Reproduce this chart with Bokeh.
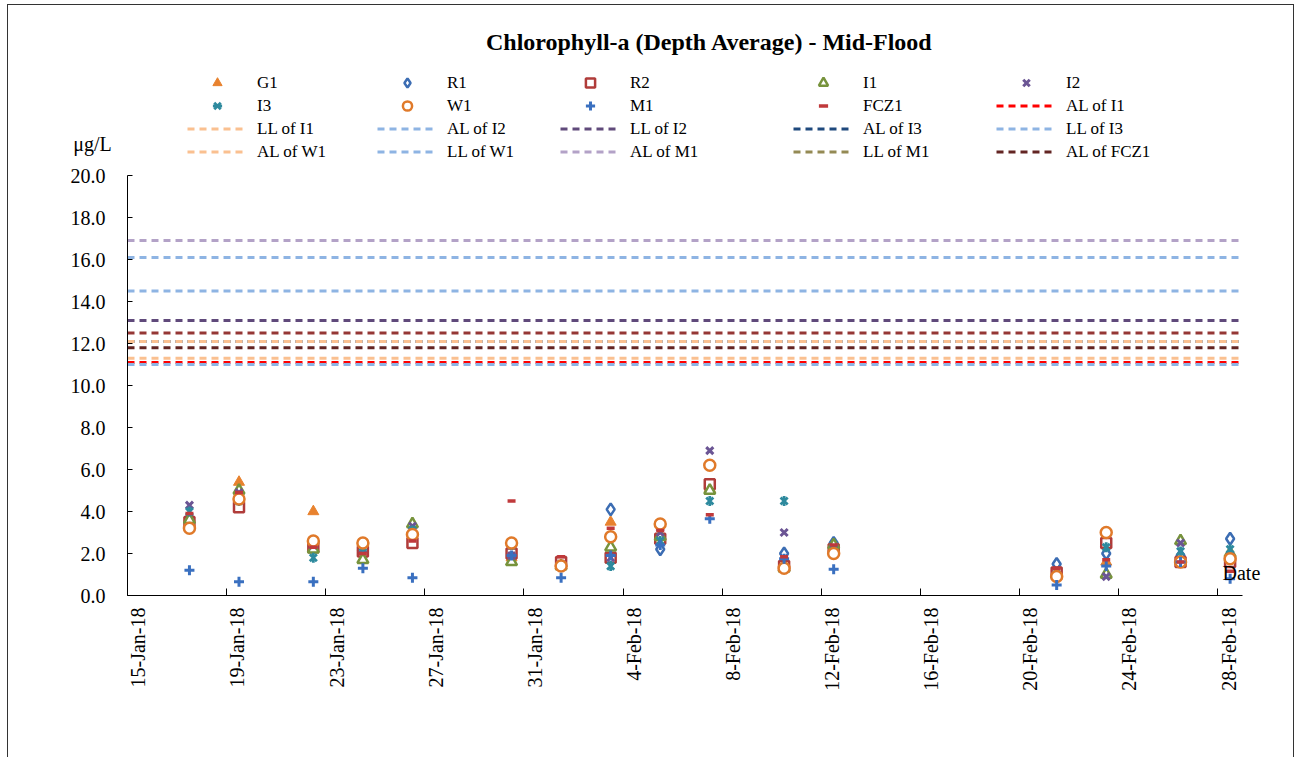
import math
import pandas as pd
from bokeh.plotting import figure
from bokeh.layouts import column
from bokeh.models import (Range1d, FixedTicker, Legend, LegendItem, Label, NumeralTickFormatter,
                          DatetimeAxis)
from bokeh.embed import file_html
from bokeh.resources import INLINE

TITLE = "Chlorophyll-a (Depth Average) - Mid-Flood"
Y_UNIT = "μg/L"
X_LABEL = "Date"

X_START = "2018-01-15"
X_END = "2018-03-01"
X_TICK_LABELS = ["15-Jan-18", "19-Jan-18", "23-Jan-18", "27-Jan-18", "31-Jan-18", "4-Feb-18",
                 "8-Feb-18", "12-Feb-18", "16-Feb-18", "20-Feb-18", "24-Feb-18", "28-Feb-18"]
Y_TICKS = [0, 2, 4, 6, 8, 10, 12, 14, 16, 18, 20]

DATES = ["2018-01-17 12:00", "2018-01-19 12:00", "2018-01-22 12:00", "2018-01-24 12:00",
         "2018-01-26 12:00", "2018-01-30 12:00", "2018-02-01 12:00", "2018-02-03 12:00",
         "2018-02-05 12:00", "2018-02-07 12:00", "2018-02-10 12:00", "2018-02-12 12:00",
         "2018-02-21 12:00", "2018-02-23 12:00", "2018-02-26 12:00", "2018-02-28 12:00"]

G1 = [3.7, 5.4, 4.0, 2.3, 3.0, 1.8, 1.5, 3.5, 2.7, 5.1, 1.3, 2.3, 0.9, 1.6, 1.7, 1.9]
R1 = [3.7, 4.8, 2.5, 2.4, 2.9, 2.0, 1.5, 4.1, 2.2, 5.2, 2.0, 2.5, 1.5, 2.0, 1.9, 2.7]
R2 = [3.5, 4.2, 2.3, 2.1, 2.5, 2.0, 1.6, 1.8, 2.7, 5.3, 1.4, 2.2, 1.1, 2.5, 1.6, 1.6]
I1 = [3.6, 5.0, 2.2, 1.7, 3.4, 1.6, 1.4, 2.3, 2.8, 5.0, 1.3, 2.4, 1.0, 1.0, 2.6, 2.0]
I2 = [4.3, 4.9, 2.4, 2.2, 3.3, 1.9, 1.5, 1.8, 3.0, 6.9, 3.0, 2.3, 1.0, 0.9, 2.5, 1.9]
I3 = [4.0, 4.5, 1.8, 2.3, 3.1, 2.4, 1.45, 1.4, 2.6, 4.5, 4.5, 2.2, 1.0, 2.3, 2.1, 2.2]
W1 = [3.2, 4.6, 2.6, 2.5, 2.9, 2.5, 1.4, 2.8, 3.4, 6.2, 1.3, 2.0, 0.9, 3.0, 1.6, 1.75]
M1 = [1.2, 0.65, 0.65, 1.3, 0.85, 1.9, 0.85, 1.9, 2.4, 3.65, 1.75, 1.25, 0.5, 1.4, 1.6, 0.8]
FCZ1 = [3.9, 4.9, 2.3, 2.0, 2.6, 4.5, 1.85, 3.2, 3.1, 3.85, 1.85, 2.4, 1.3, 1.7, 1.6, 1.15]

SERIES_NAMES = ["G1", "R1", "R2", "I1", "I2", "I3", "W1", "M1", "FCZ1"]
SERIES_VALUES = [G1, R1, R2, I1, I2, I3, W1, M1, FCZ1]

# Action / Limit levels (LL of M1 lies above the plotted range; LL of FCZ1 is not in the legend)
LEVEL_NAMES = ["AL of I1", "LL of I1", "AL of I2", "LL of I2", "AL of I3", "LL of I3",
               "AL of W1", "LL of W1", "AL of M1", "LL of M1", "AL of FCZ1", "LL of FCZ1"]
LEVEL_VALUES = [11.1, 11.3, 11.0, 13.1, 12.1, 14.5, 12.1, 16.1, 16.9, 22.0, 11.8, 12.5]
LEGEND_ORDER = SERIES_NAMES + LEVEL_NAMES[:11]

# ---------------- styles ----------------
FONT = "Liberation Serif"
MARKER_STYLES = {
    "G1": [dict(marker="triangle", size=11, fill_color="#E8822E", line_color="#E8822E", line_width=1)],
    "R1": [dict(marker="diamond", size=12, fill_color="white", line_color="#3C6DB3", line_width=2.5)],
    "R2": [dict(marker="square", size=10, fill_color="white", line_color="#B03C3A", line_width=2.5)],
    "I1": [dict(marker="triangle", size=11, fill_color="white", line_color="#77933C", line_width=2.5)],
    "I2": [dict(marker="x", size=10, line_color="#6B5594", line_width=3)],
    "I3": [dict(marker="x", size=10, line_color="#2E8A9E", line_width=2.8),
           dict(marker="dash", size=10, angle=math.pi / 2, line_color="#2E8A9E", line_width=2.8)],
    "W1": [dict(marker="circle", size=11, fill_color="white", line_color="#E07A2A", line_width=2.5)],
    "M1": [dict(marker="cross", size=10, line_color="#3A70C0", line_width=3)],
    "FCZ1": [dict(marker="dash", size=8, line_color="#C0393B", line_width=3.5)],
}
LEVEL_COLORS = ["#FF0000", "#FAC090", "#8EB4E3", "#604A7B", "#1F497D", "#8EB4E3",
                "#FAC090", "#8EB4E3", "#B3A2C7", "#948A54", "#632523", "#953735"]
LINE_DASH = "7 5"
LABEL_SHIFT = pd.Timedelta(hours=10.5)
NAN = float("nan")

x0 = pd.Timestamp(X_START)
x1 = pd.Timestamp(X_END)
xs = pd.to_datetime(DATES)
tick_ms = [pd.to_datetime(t, format="%d-%b-%y").value / 1e6 for t in X_TICK_LABELS]

# ---------------- header (title + legend) ----------------
W = 1285
HEAD_H = 158
head = figure(width=W, height=HEAD_H, x_range=Range1d(8, 8 + W), y_range=Range1d(5 + HEAD_H, 5),
              output_backend="svg", toolbar_location=None, x_axis_location=None,
              y_axis_location=None, min_border=0)
head.frame_align = False
head.xgrid.visible = False
head.ygrid.visible = False
head.outline_line_color = None

proxy = {}
for name in SERIES_NAMES:
    proxy[name] = [head.scatter(x=[NAN], y=[NAN], **st) for st in MARKER_STYLES[name]]
for name, col in zip(LEVEL_NAMES, LEVEL_COLORS):
    proxy[name] = [head.line(x=[NAN, NAN], y=[NAN, NAN], line_color=col, line_width=3,
                             line_dash=LINE_DASH)]

col_x = [179, 369, 552, 785, 988]
for c in range(5):
    names = [LEGEND_ORDER[i] for i in range(c, len(LEGEND_ORDER), 5)]
    items = [LegendItem(label=n, renderers=proxy[n]) for n in names]
    leg = Legend(items=items, location=(col_x[c], 0), orientation="vertical",
                 glyph_width=60, glyph_height=23, label_height=23, label_standoff=10,
                 spacing=0, padding=0, margin=0, border_line_color=None,
                 background_fill_alpha=0, label_text_font=FONT, label_text_font_size="17px",
                 label_text_color="#000000")
    head.add_layout(leg, "center")

head.add_layout(Label(x=709, y=41, text=TITLE, text_align="center", text_baseline="middle",
                      text_font=FONT, text_font_style="bold", text_font_size="24px",
                      text_color="#000000"))
head.add_layout(Label(x=92, y=143, text=Y_UNIT, text_align="center", text_baseline="middle",
                      text_font=FONT, text_font_size="20px", text_color="#000000"))

# ---------------- main chart ----------------
p = figure(width=W, height=594, x_axis_type="datetime",
           x_range=Range1d(x0, x1), y_range=Range1d(0, 20),
           output_backend="svg", toolbar_location=None,
           min_border_left=119, min_border_right=51, min_border_top=12, min_border_bottom=162)
p.frame_align = False
p.xgrid.visible = False
p.ygrid.visible = False
p.outline_line_color = None

p.xaxis.ticker = FixedTicker(ticks=tick_ms)
p.xaxis.major_tick_in = 7
p.xaxis.major_tick_out = 0
p.xaxis.minor_tick_line_color = None
p.xaxis.major_label_text_font_size = "0px"
p.xaxis.major_label_text_color = None
p.xaxis.axis_line_color = "#000000"
p.xaxis.major_tick_line_color = "#000000"

p.extra_x_ranges = {"lab": Range1d(x0 - LABEL_SHIFT, x1 - LABEL_SHIFT)}
lab_axis = DatetimeAxis(x_range_name="lab", ticker=FixedTicker(ticks=tick_ms),
                        major_label_overrides={t: lab for t, lab in zip(tick_ms, X_TICK_LABELS)},
                        axis_line_color=None, major_tick_line_color=None,
                        minor_tick_line_color=None, major_label_orientation=math.pi / 2,
                        major_label_standoff=6, major_label_text_font=FONT,
                        major_label_text_font_size="20px", major_label_text_color="#000000")
p.add_layout(lab_axis, "below")

p.yaxis.ticker = FixedTicker(ticks=Y_TICKS)
p.yaxis.formatter = NumeralTickFormatter(format="0.0")
p.yaxis.major_tick_in = 5
p.yaxis.major_tick_out = 0
p.yaxis.minor_tick_line_color = None
p.yaxis.major_label_standoff = 22
p.yaxis.axis_line_color = "#000000"
p.yaxis.major_tick_line_color = "#000000"
p.yaxis.major_label_text_font = FONT
p.yaxis.major_label_text_font_size = "20px"
p.yaxis.major_label_text_color = "#000000"

for name, vals in zip(SERIES_NAMES, SERIES_VALUES):
    for st in MARKER_STYLES[name]:
        p.scatter(x=xs, y=vals, **st)

for name, val, col in zip(LEVEL_NAMES, LEVEL_VALUES, LEVEL_COLORS):
    p.line(x=[x0, x1], y=[val, val], line_color=col, line_width=3, line_dash=LINE_DASH)

p.add_layout(Label(x=-20, y=23, x_units="screen", y_units="screen", text=X_LABEL,
                   text_align="left", text_baseline="middle", text_font=FONT,
                   text_font_size="20px", text_color="#000000"), "right")

layout = column(head, p, spacing=0)
layout.margin = (4, 0, 0, 7)
layout.styles = {"border-left": "1px solid #333", "border-top": "1px solid #333",
                 "border-right": "1px solid #333"}

open("out.html", "w").write(file_html(layout, INLINE))
